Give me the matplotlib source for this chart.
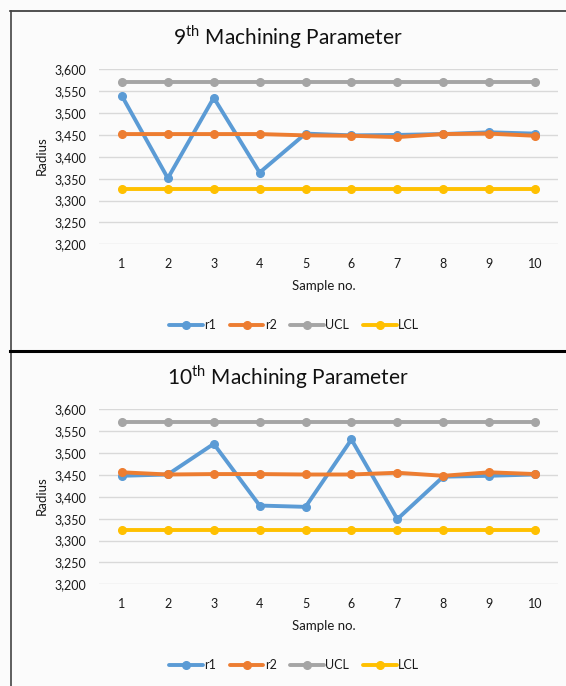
import matplotlib
matplotlib.use("Agg")
import matplotlib.pyplot as plt
from matplotlib.lines import Line2D
from matplotlib.ticker import FuncFormatter

plt.rcParams['font.family'] = ['Lato', 'DejaVu Sans']
plt.rcParams['mathtext.fontset'] = 'custom'
plt.rcParams['mathtext.rm'] = 'Lato'

samples = list(range(1, 11))
sample_labels = [str(s) for s in samples]

# 9th machining parameter
r1_p9 = [3539, 3351, 3535, 3364, 3453, 3449, 3450, 3452, 3456, 3453]
r2_p9 = [3452, 3452, 3452, 3452, 3449, 3448, 3445, 3452, 3453, 3448]
ucl_p9 = [3572] * 10
lcl_p9 = [3327] * 10

# 10th machining parameter
r1_p10 = [3448, 3451, 3521, 3380, 3377, 3531, 3349, 3446, 3448, 3451]
r2_p10 = [3456, 3451, 3452, 3452, 3451, 3451, 3455, 3448, 3456, 3452]
ucl_p10 = [3570] * 10
lcl_p10 = [3323] * 10

y_ticks = [3200, 3250, 3300, 3350, 3400, 3450, 3500, 3550, 3600]

series_names = ['r1', 'r2', 'UCL', 'LCL']
series_colors = ['#5B9BD5', '#ED7D31', '#A5A5A5', '#FFC000']

W, H = 566, 686
fig = plt.figure(figsize=(W / 100, H / 100), dpi=100)
fig.patch.set_facecolor('#fbfbfb')


def fx(px):
    return px / W


def fy(py):
    return 1 - py / H


def panel(top_offset, title, series):
    left, right = 99, 558
    top, bottom = 69.3 + top_offset, 244.3 + top_offset
    ax = fig.add_axes([fx(left), fy(bottom), fx(right - left), (bottom - top) / H])
    ax.set_facecolor('none')
    for name, color, vals in zip(series_names, series_colors, series):
        ax.plot(samples, vals, color=color, lw=2.8, marker='o', ms=5.5,
                label=name, solid_capstyle='round', zorder=3)
    ax.set_xlim(0.5, 10.5)
    ax.set_ylim(3200, 3600)
    ax.set_yticks(y_ticks)
    ax.yaxis.set_major_formatter(FuncFormatter(lambda v, p: f"{int(v):,}"))
    ax.set_xticks(samples)
    ax.set_xticklabels(sample_labels)
    ax.grid(axis='y', color='#d9d9d9', lw=1.0, zorder=0)
    for s in ax.spines.values():
        s.set_visible(False)
    ax.tick_params(length=0, labelsize=9, colors='#1a1a1a')
    ax.tick_params(axis='x', pad=10)
    ax.tick_params(axis='y', pad=9)
    fig.text(fx(288), fy(37 + top_offset), title, ha='center', va='center',
             fontsize=15, color='#111111')
    fig.text(fx(42), fy(156 + top_offset), 'Radius', rotation=90,
             ha='center', va='center', fontsize=9.5, color='#1a1a1a')
    fig.text(fx(324), fy(286 + top_offset), 'Sample no.', ha='center',
             va='center', fontsize=9.5, color='#1a1a1a')
    handles, labels = ax.get_legend_handles_labels()
    fig.legend(handles, labels, loc='center', ncol=4,
               bbox_to_anchor=(fx(294), fy(325 + top_offset)), frameon=False,
               fontsize=9, handlelength=2.7, handletextpad=0.1,
               columnspacing=1.1, labelcolor='#1a1a1a')
    return ax


panel(0, "9$^{\\mathrm{th}}$ Machining Parameter",
      [r1_p9, r2_p9, ucl_p9, lcl_p9])
panel(340, "10$^{\\mathrm{th}}$ Machining Parameter",
      [r1_p10, r2_p10, ucl_p10, lcl_p10])

# Panel frame lines
fig.add_artist(Line2D([fx(10), 1], [fy(11), fy(11)], color='#333333', lw=1.2))
fig.add_artist(Line2D([fx(10.5), fx(10.5)], [fy(11), 0], color='#444444', lw=1.2))
fig.add_artist(Line2D([fx(10), 1], [fy(350.5), fy(350.5)], color='black', lw=2.2))

fig.savefig('out.png', dpi=100, facecolor=fig.get_facecolor())
